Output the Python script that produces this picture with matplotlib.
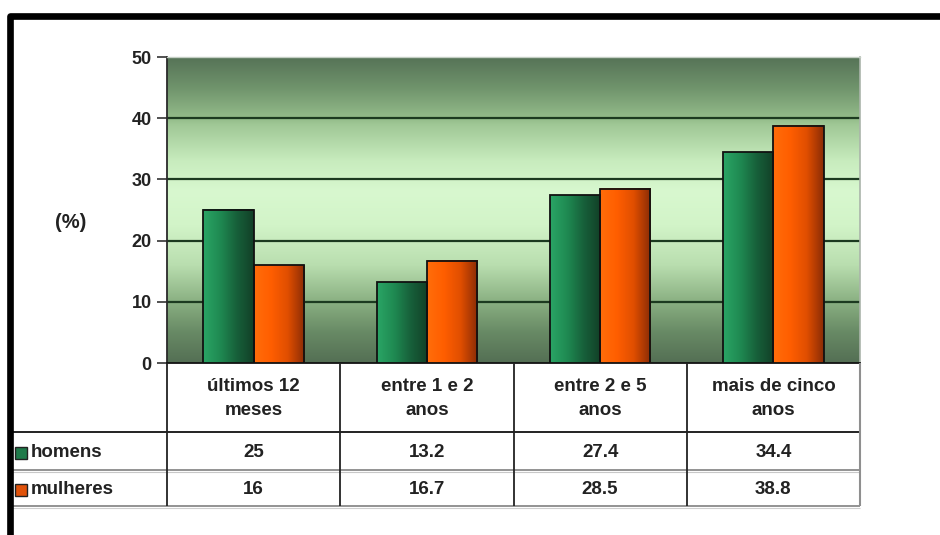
import numpy as np
import matplotlib
matplotlib.use("Agg")
import matplotlib.pyplot as plt
from matplotlib.colors import LinearSegmentedColormap
from matplotlib.lines import Line2D

# ---- data ----
categories = ["últimos 12\nmeses", "entre 1 e 2\nanos", "entre 2 e 5\nanos", "mais de cinco\nanos"]
series_names = ["homens", "mulheres"]
homens = [25, 13.2, 27.4, 34.4]
mulheres = [16, 16.7, 28.5, 38.8]
value_labels = [["25", "13.2", "27.4", "34.4"], ["16", "16.7", "28.5", "38.8"]]
y_ticks = [0, 10, 20, 30, 40, 50]

plt.rcParams["font.family"] = ["Liberation Sans", "DejaVu Sans"]

W, H = 940, 535
fig = plt.figure(figsize=(W / 100, H / 100), dpi=100)
fig.patch.set_facecolor("white")

# plot area in pixel layout
px_left, px_right, px_top, px_bottom = 167, 860, 57, 363
ax = fig.add_axes([px_left / W, 1 - px_bottom / H,
                   (px_right - px_left) / W, (px_bottom - px_top) / H])
n = len(categories)
x = np.arange(n)

# vertical gradient background (dark - light - dark)
stops = [(0.00, (84, 111, 84)), (0.10, (104, 138, 101)), (0.20, (138, 176, 130)),
         (0.32, (185, 222, 175)), (0.45, (210, 244, 200)), (0.56, (216, 248, 207)),
         (0.66, (200, 236, 190)), (0.78, (160, 200, 150)), (0.80, (148, 188, 138)),
         (0.90, (112, 148, 108)), (1.00, (86, 115, 87))]
bg_cmap = LinearSegmentedColormap.from_list(
    "bg", [(p, tuple(c / 255 for c in rgb)) for p, rgb in stops])
grad = np.linspace(0, 1, 256).reshape(-1, 1)
ax.imshow(grad, extent=(-0.5, n - 0.5, 0, 50), origin="lower", aspect="auto",
          cmap=bg_cmap, zorder=0, interpolation="bicubic")

# gridlines
for t in y_ticks[1:-1]:
    ax.axhline(t, color="#1c3a20", lw=1.6, zorder=1)

# bars with horizontal shading
green_cmap = LinearSegmentedColormap.from_list(
    "g", ["#2aa565", "#1f8a52", "#17603a", "#123f27"])
orange_cmap = LinearSegmentedColormap.from_list(
    "o", ["#ff6d0a", "#ff5e00", "#e04e00", "#8a2c06"])
bar_w = 0.29
offsets = [-bar_w / 2, bar_w / 2]
hgrad = np.linspace(0, 1, 128).reshape(1, -1)
for vals, off, cm in [(homens, offsets[0], green_cmap), (mulheres, offsets[1], orange_cmap)]:
    bars = ax.bar(x + off, vals, width=bar_w, fill=False, edgecolor="#111",
                  linewidth=1.3, zorder=4)
    for b in bars:
        x0, w, h = b.get_x(), b.get_width(), b.get_height()
        ax.imshow(hgrad, extent=(x0, x0 + w, 0, h), aspect="auto", cmap=cm,
                  zorder=3, interpolation="bicubic")
ax.set_xlim(-0.5, n - 0.5)
ax.set_ylim(0, 50)

# axes styling
ax.set_xticks([])
ax.set_yticks(y_ticks)
ax.set_yticklabels([str(t) for t in y_ticks], fontsize=13, fontweight="bold", color="#222")
ax.tick_params(axis="y", direction="out", length=7, width=1.2, color="#333", pad=4)
ax.spines["left"].set_color("#2a2a2a")
ax.spines["left"].set_linewidth(1.3)
ax.spines["bottom"].set_color("#111")
ax.spines["bottom"].set_linewidth(1.3)
ax.spines["top"].set_color("#c5cfc5")
ax.spines["top"].set_linewidth(1.0)
ax.spines["right"].set_color("#aab4aa")
ax.spines["right"].set_linewidth(1.2)

fig.text(71 / W, 1 - 222 / H, "(%)", fontsize=14.5, fontweight="bold",
         color="#222", ha="center", va="center")

# ---- data table below the plot ----
tbl_bottom = 506
tax = fig.add_axes([px_left / W, 1 - tbl_bottom / H,
                    (px_right - px_left) / W, (tbl_bottom - px_bottom) / H])
tax.set_xlim(-0.5, n - 0.5)
tax.set_ylim(tbl_bottom - px_bottom, 0)
tax.axis("off")

cat_px = (px_right - px_left) / n
def px_to_x(px):
    return -0.5 + (px - px_left) / cat_px

row_edges = [0, 69, 107, 143]
x_tbl_left = px_to_x(12)
kw = dict(clip_on=False, solid_capstyle="butt")

# horizontal rules
tax.plot([x_tbl_left, n - 0.5], [row_edges[1]] * 2, color="#111", lw=1.3, **kw)
tax.plot([x_tbl_left, n - 0.5], [row_edges[2]] * 2, color="#8a8a8a", lw=1.3, **kw)
tax.plot([x_tbl_left, n - 0.5], [row_edges[2] + 1.5] * 2, color="#c8c8c8", lw=0.8, **kw)
tax.plot([x_tbl_left, n - 0.5], [row_edges[3]] * 2, color="#8a8a8a", lw=1.3, **kw)
tax.plot([x_tbl_left, n - 0.5], [row_edges[3] + 1.5] * 2, color="#cfcfcf", lw=0.8, **kw)
# vertical rules
for i in range(n):
    tax.plot([i - 0.5] * 2, [row_edges[0], row_edges[3]], color="#222", lw=1.3, **kw)
tax.plot([n - 0.5] * 2, [row_edges[0], row_edges[3]], color="#8f8f8f", lw=1.5, **kw)
tax.plot([x_tbl_left] * 2, [row_edges[1], row_edges[3]], color="#444", lw=1.3, **kw)

# category header labels
for i, c in enumerate(categories):
    tax.text(i, (row_edges[0] + row_edges[1]) / 2 + 1, c, ha="center", va="center",
             fontsize=13.5, fontweight="bold", color="#222", linespacing=1.55)

# series rows
legend_colors = ["#1f7a4a", "#e0520a"]
for r, name in enumerate(series_names):
    yc = (row_edges[r + 1] + row_edges[r + 2]) / 2 + 1.5
    tax.plot([px_to_x(21)], [yc], marker="s", markersize=8.5,
             markerfacecolor=legend_colors[r], markeredgecolor="#222",
             markeredgewidth=1.0, clip_on=False)
    tax.text(px_to_x(31), yc, name, ha="left", va="center", fontsize=13.5,
             fontweight="bold", color="#222")
    for i in range(n):
        tax.text(i, yc, value_labels[r][i], ha="center", va="center",
                 fontsize=13.5, fontweight="bold", color="#222")

# black frame along the top and left edges
fig.add_artist(Line2D([10 / W, 10 / W, 1.0], [0.0, 1 - 15.5 / H, 1 - 15.5 / H],
                      transform=fig.transFigure, color="black", lw=4.8,
                      solid_joinstyle="round"))

fig.savefig("out.png", dpi=100, facecolor="white")
